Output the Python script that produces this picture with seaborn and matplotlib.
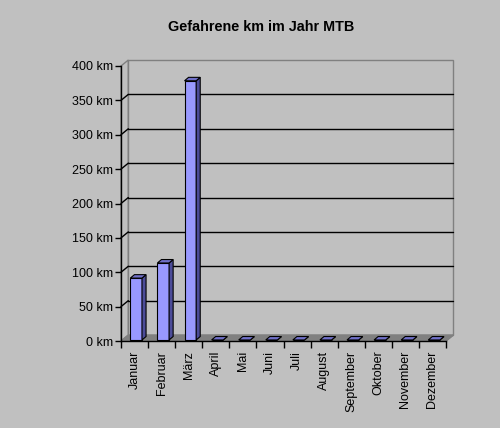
import numpy as np
import pandas as pd
import seaborn as sns
import matplotlib
matplotlib.use("Agg")
import matplotlib.pyplot as plt
from matplotlib.patches import Polygon
from matplotlib.ticker import FuncFormatter, MultipleLocator

# data
months = ["Januar", "Februar", "März", "April", "Mai", "Juni", "Juli",
          "August", "September", "Oktober", "November", "Dezember"]
km = [90, 112, 377, 0, 0, 0, 0, 0, 0, 0, 0, 0]
y_ticks = [0, 50, 100, 150, 200, 250, 300, 350, 400]

df = pd.DataFrame({"Monat": months, "km": km})

sns.set_style("white")
plt.rcParams["font.family"] = ["Liberation Sans", "DejaVu Sans"]
plt.rcParams["text.color"] = "black"
plt.rcParams["xtick.color"] = "black"
plt.rcParams["ytick.color"] = "black"

bg = "#C0C0C0"
fig = plt.figure(figsize=(5.0, 4.28), dpi=100, facecolor=bg)
ax = fig.add_axes([121 / 500, 87 / 428, 325 / 500, 275 / 428])
ax.set_facecolor("none")

sns.barplot(data=df, x="Monat", y="km", color="#9999FF", edgecolor="black",
            linewidth=0.8, width=0.43, saturation=1, ax=ax, zorder=3)

ax.set_xlim(-0.5, 11.5)
ax.set_ylim(0, 400)

# 3d depth of walls and bars (data units)
wdx, wdy = 0.27, 8.7
bdx, bdy = 0.15, 5.0
sx, sy = 0.06, 1.5

# side wall, back wall, floor
side = Polygon([(-0.5, 0), (-0.5 + wdx, wdy), (-0.5 + wdx, 400 + wdy), (-0.5, 400)],
               closed=True, facecolor=bg, edgecolor="#808080", lw=1, zorder=0, clip_on=False)
back = Polygon([(-0.5 + wdx, wdy), (11.5 + wdx, wdy), (11.5 + wdx, 400 + wdy), (-0.5 + wdx, 400 + wdy)],
               closed=True, facecolor=bg, edgecolor="#808080", lw=1, zorder=0, clip_on=False)
floor = Polygon([(-0.5, 0), (11.5, 0), (11.5 + wdx, wdy), (-0.5 + wdx, wdy)],
                closed=True, facecolor="#808080", edgecolor="#808080", lw=1, zorder=1, clip_on=False)
for p in (side, back, floor):
    ax.add_patch(p)

# gridlines on the back wall and the side wall
for v in y_ticks[1:-1]:
    ax.plot([-0.5 + wdx, 11.5 + wdx], [v + wdy, v + wdy], color="black", lw=1, zorder=1, clip_on=False)
    ax.plot([-0.5, -0.5 + wdx], [v, v + wdy], color="black", lw=1, zorder=1, clip_on=False)

# floor right edge
ax.plot([11.5, 11.5 + wdx], [0, wdy], color="#808080", lw=1, zorder=1, clip_on=False)

# bars in 3d
for p in list(ax.patches):
    if p in (side, back, floor):
        continue
    x0 = p.get_x() + sx
    w = p.get_width()
    h = p.get_height()
    p.set_x(x0)
    p.set_y(sy)
    x1 = x0 + w
    y0, y1 = sy, sy + h
    ax.add_patch(Polygon([(x1, y0), (x1 + bdx, y0 + bdy), (x1 + bdx, y1 + bdy), (x1, y1)],
                         closed=True, facecolor="#4C4C99", edgecolor="black", lw=0.8, zorder=3, clip_on=False))
    ax.add_patch(Polygon([(x0, y1), (x1, y1), (x1 + bdx, y1 + bdy), (x0 + bdx, y1 + bdy)],
                         closed=True, facecolor="#7070C8", edgecolor="black", lw=0.8, zorder=3, clip_on=False))

# axes
for s in ("top", "right"):
    ax.spines[s].set_visible(False)
for s in ("left", "bottom"):
    ax.spines[s].set_color("black")
    ax.spines[s].set_linewidth(1)
    ax.spines[s].set_zorder(4)

ax.set_yticks(y_ticks)
ax.yaxis.set_major_formatter(FuncFormatter(lambda v, pos: f"{int(v)} km"))
ax.tick_params(axis="y", length=4, width=1, color="black", labelcolor="black", pad=2, labelsize=9, left=True)
ax.set_xticks(range(len(months)))
ax.set_xticklabels(months, rotation=90, fontsize=9, color="black")
ax.xaxis.set_minor_locator(MultipleLocator(1, offset=0.5))
ax.tick_params(axis="x", which="major", length=0, pad=7)
ax.tick_params(axis="x", which="minor", length=5, width=1, color="black", bottom=True)
ax.set_xlabel("")
ax.set_ylabel("")

fig.text(261 / 500, 1 - 27 / 428, "Gefahrene km im Jahr MTB", ha="center", va="center",
         fontsize=10.4, fontweight="bold", color="black")

fig.savefig("out.png", dpi=100, facecolor=bg)
